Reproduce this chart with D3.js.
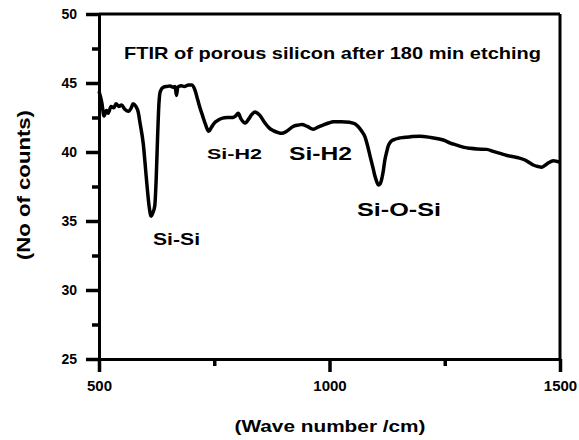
<!DOCTYPE html>
<html lang="en">
<head>
  <meta charset="UTF-8">
  <title>FTIR of porous silicon</title>
  <script src="https://cdn.jsdelivr.net/npm/d3@7"></script>
  <style>
    body { margin: 0; background: #fff; }
    text { font-family: "Liberation Sans", Arial, sans-serif; font-weight: bold; fill: #000; }
  </style>
</head>
<body>
  <svg id="chart" width="579" height="440"></svg>

  <script>
    // spectrum
    const waveNumber = [500, 506, 511, 516, 520, 526, 532, 537, 543, 549, 556, 564, 570, 574, 580, 585, 589, 596,
      603, 609, 613, 617, 621, 624, 627, 630, 633, 640, 647, 654, 661, 665, 668, 671, 678, 685, 694, 701, 708,
      714, 719, 725, 731, 738, 744, 750, 758, 768, 778, 791, 796, 802, 808, 817, 825, 831, 838, 849, 860, 869,
      878, 889, 896, 907, 921, 932, 940, 952, 965, 975, 986, 998, 1008, 1025, 1044, 1055, 1062, 1070, 1077,
      1083, 1088, 1094, 1099, 1103, 1106, 1110, 1113, 1117, 1120, 1124, 1127, 1133, 1140, 1150, 1160, 1175,
      1196, 1220, 1247, 1262, 1276, 1290, 1305, 1320, 1341, 1355, 1370, 1385, 1399, 1410, 1424, 1435, 1442,
      1452, 1460, 1468, 1475, 1486, 1496, 1500];
    const counts = [44.4, 43.6, 42.6, 43.0, 42.8, 43.3, 43.2, 43.5, 43.3, 43.4, 43.1, 42.95, 43.2, 43.5, 43.3,
      42.9, 42.1, 40.6, 38.0, 36.0, 35.35, 35.6, 36.1, 38.0, 41.0, 43.5, 44.4, 44.7, 44.75, 44.78, 44.7, 44.75,
      44.1, 44.7, 44.8, 44.75, 44.85, 44.85, 44.5, 43.8, 43.2, 42.6, 42.0, 41.5, 41.8, 42.1, 42.3, 42.45, 42.5,
      42.5, 42.6, 42.8, 42.4, 42.1, 42.4, 42.7, 42.9, 42.65, 42.1, 41.75, 41.55, 41.4, 41.35, 41.5, 41.85,
      41.95, 42.0, 41.85, 41.65, 41.8, 41.95, 42.1, 42.2, 42.2, 42.15, 42.05, 41.85, 41.5, 41.1, 40.4, 39.7,
      38.9, 38.2, 37.8, 37.6, 37.7, 38.0, 38.7, 39.4, 40.0, 40.4, 40.75, 40.9, 41.0, 41.05, 41.1, 41.15, 41.05,
      40.87, 40.65, 40.5, 40.35, 40.27, 40.22, 40.19, 40.05, 39.9, 39.75, 39.66, 39.58, 39.42, 39.2, 39.06,
      38.95, 38.9, 39.05, 39.22, 39.37, 39.3, 39.3];

    const xTicks = [500, 1000, 1500];
    const xMinorTicks = [750, 1250];
    const yTicks = [25, 30, 35, 40, 45, 50];
    const yMinorTicks = [27.5, 32.5, 37.5, 42.5, 47.5];

    const peakLabels = ["Si-Si", "Si-H2", "Si-H2", "Si-O-Si"];
    const titleText = "FTIR of porous silicon after 180 min etching";

    const svg = d3.select("#chart");
    const margin = { top: 14, right: 19, bottom: 81, left: 99 };
    const width = +svg.attr("width") - margin.left - margin.right;
    const height = +svg.attr("height") - margin.top - margin.bottom;

    const g = svg.append("g")
      .attr("transform", `translate(${margin.left},${margin.top})`);

    const x = d3.scaleLinear().domain([500, 1500]).range([0, width]);
    const y = d3.scaleLinear().domain([25, 50]).range([height, 0]);

    function styleAxis(sel) {
      sel.selectAll("path.domain").attr("stroke-width", 3).attr("stroke", "#000");
      sel.selectAll(".tick line").attr("stroke-width", 3.5).attr("stroke", "#000");
    }

    // frame: top and right
    g.append("line").attr("x1", 0).attr("x2", width).attr("y1", 0).attr("y2", 0)
      .attr("stroke", "#000").attr("stroke-width", 3);
    g.append("line").attr("x1", width).attr("x2", width).attr("y1", 0).attr("y2", height)
      .attr("stroke", "#000").attr("stroke-width", 3);

    // x axis
    const xAxis = g.append("g")
      .attr("transform", `translate(0,${height})`)
      .call(d3.axisBottom(x).tickValues(xTicks).tickSize(13).tickSizeOuter(0).tickPadding(8).tickFormat(d3.format("d")));
    xAxis.call(styleAxis);
    xAxis.selectAll(".tick text").style("font-size", "15px");
    g.append("g")
      .attr("transform", `translate(0,${height})`)
      .call(d3.axisBottom(x).tickValues(xMinorTicks).tickSize(7).tickSizeOuter(0).tickFormat(""))
      .call(styleAxis);

    // y axis
    const yAxis = g.append("g")
      .call(d3.axisLeft(y).tickValues(yTicks).tickSize(13).tickSizeOuter(0).tickPadding(9));
    yAxis.call(styleAxis);
    yAxis.selectAll(".tick text").style("font-size", "14px");
    g.append("g")
      .call(d3.axisLeft(y).tickValues(yMinorTicks).tickSize(7).tickSizeOuter(0).tickFormat(""))
      .call(styleAxis);

    // spectrum
    const spectrum = waveNumber.map((w, i) => ({ w: w, c: counts[i] }));
    g.append("path")
      .datum(spectrum)
      .attr("fill", "none")
      .attr("stroke", "#000")
      .attr("stroke-width", 3.5)
      .attr("stroke-linejoin", "round")
      .attr("d", d3.line().x(d => x(d.w)).y(d => y(d.c)).curve(d3.curveMonotoneX));

    // title and peak labels (picture is a bit stretched sideways, so lengths are forced)
    function label(txt, px, py, size, len) {
      svg.append("text")
        .attr("x", px).attr("y", py)
        .style("font-size", size + "px")
        .attr("textLength", len)
        .attr("lengthAdjust", "spacingAndGlyphs")
        .text(txt);
    }
    label(titleText, 124, 59, 17, 417);
    label(peakLabels[0], 153, 245, 16, 47);
    label(peakLabels[1], 207, 159, 15, 55);
    label(peakLabels[2], 289, 160, 19, 63);
    label(peakLabels[3], 357, 216, 19, 84);

    // axis titles
    svg.append("text")
      .attr("x", 330).attr("y", 432)
      .attr("text-anchor", "middle")
      .style("font-size", "17px")
      .attr("textLength", 191)
      .attr("lengthAdjust", "spacingAndGlyphs")
      .text("(Wave number /cm)");

    svg.append("text")
      .attr("transform", "translate(30,185) rotate(-90)")
      .attr("text-anchor", "middle")
      .style("font-size", "19px")
      .attr("textLength", 150)
      .attr("lengthAdjust", "spacingAndGlyphs")
      .text("(No of counts)");
  </script>
</body>
</html>
